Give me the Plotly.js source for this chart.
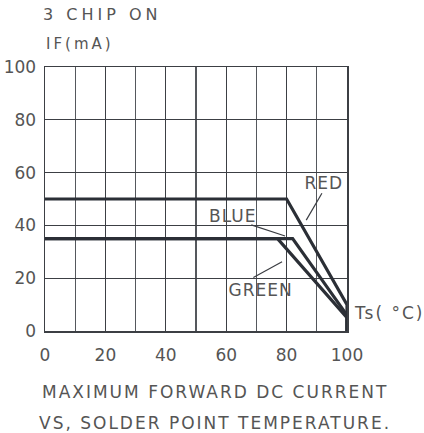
<!DOCTYPE html>
<html><head><meta charset="utf-8">
<script src="https://cdn.plot.ly/plotly-3.0.1.min.js"></script>
<style>
html,body{margin:0;padding:0;background:#fff;}
#chart{width:424px;height:433px;}
g.annotation[data-index="0"] .annotation-text{letter-spacing:4px;}
g.annotation[data-index="1"] .annotation-text{letter-spacing:3px;}
g.annotation[data-index="2"] .annotation-text{letter-spacing:2px;}
g.annotation[data-index="3"] .annotation-text{letter-spacing:2px;}
g.annotation[data-index="4"] .annotation-text{letter-spacing:2px;}
g.annotation[data-index="5"] .annotation-text{letter-spacing:1px;}
g.annotation[data-index="6"] .annotation-text{letter-spacing:1px;}
g.annotation[data-index="7"] .annotation-text{letter-spacing:1px;}
</style></head><body><div id="chart"></div>
<script>
// Series: IF (mA) vs solder point temperature Ts (°C)
const redX = [0, 80, 100, 100];
const redY = [50, 50, 10, 0];
const blueX = [0, 82, 100, 100];
const blueY = [35, 35, 6, 0];
const greenX = [0, 77, 100, 100];
const greenY = [35, 35, 5, 0];

const xTickVals = [0, 20, 40, 60, 80, 100];
const xTickText = ['0', '20', '40', '60', '80', '100'];
const yTickVals = [0, 20, 40, 60, 80, 100];
const yTickText = ['0', '20', '40', '60', '80', '100'];

// label leader lines [x0, y0, x1, y1] in data units
const redLeader = [91.7, 52.2, 86.5, 42.0];
const blueLeader = [68.3, 40.2, 79.5, 36.0];
const greenLeader = [69.0, 20.3, 78.5, 26.2];

const lineColor = '#2b2f36';
const gridColor = '#3c3f44';
const textColor = '#555555';
const fam = 'DejaVu Sans, sans-serif';

function curve(x, y, name) {
  return {x: x, y: y, name: name, type: 'scatter', mode: 'lines',
    line: {color: lineColor, width: 3.2}, hoverinfo: 'skip', showlegend: false};
}
function leader(a) {
  return {type: 'line', xref: 'x', yref: 'y', x0: a[0], y0: a[1], x1: a[2], y1: a[3],
    line: {color: '#3a3d42', width: 1.2}};
}

const data = [curve(redX, redY, 'RED'), curve(blueX, blueY, 'BLUE'), curve(greenX, greenY, 'GREEN')];

const layout = {
  width: 424, height: 433,
  margin: {l: 45, r: 77, t: 67, b: 102},
  paper_bgcolor: '#fff', plot_bgcolor: '#fff',
  showlegend: false,
  xaxis: {range: [0, 100], showgrid: true, gridcolor: gridColor, gridwidth: 1.3,
    minor: {dtick: 10, tick0: 0, showgrid: true, gridcolor: '#55585d', gridwidth: 1.3, ticks: ''},
    zeroline: false, showline: true, linecolor: gridColor, linewidth: 1.5, mirror: true,
    tickmode: 'array', tickvals: xTickVals, ticktext: xTickText, ticks: '',
    ticklabelstandoff: 8, tickfont: {family: fam, size: 17, color: textColor}},
  yaxis: {range: [0, 100], showgrid: true, gridcolor: gridColor, gridwidth: 1.3,
    zeroline: false, showline: true, linecolor: gridColor, linewidth: 1.5, mirror: true,
    tickmode: 'array', tickvals: yTickVals, ticktext: yTickText, ticks: '',
    ticklabelstandoff: 4, tickfont: {family: fam, size: 17, color: textColor}},
  shapes: [leader(redLeader), leader(blueLeader), leader(greenLeader)],
  annotations: [
    {text: '3 CHIP ON', xref: 'paper', yref: 'paper', x: -0.012, y: 1.197, xanchor: 'left', yanchor: 'middle', align: 'left', showarrow: false, font: {family: fam, size: 16, color: textColor}},
    {text: 'IF(mA)', xref: 'paper', yref: 'paper', x: -0.003, y: 1.087, xanchor: 'left', yanchor: 'middle', align: 'left', showarrow: false, font: {family: fam, size: 15, color: textColor}},
    {text: 'MAXIMUM FORWARD DC CURRENT', xref: 'paper', yref: 'paper', x: 0.5635, y: -0.231, xanchor: 'center', yanchor: 'middle', showarrow: false, font: {family: fam, size: 17, color: textColor}},
    {text: 'VS, SOLDER POINT TEMPERATURE.', xref: 'paper', yref: 'paper', x: 0.5635, y: -0.348, xanchor: 'center', yanchor: 'middle', showarrow: false, font: {family: fam, size: 17, color: textColor}},
    {text: 'Ts( °C)', xref: 'paper', yref: 'paper', x: 1.018, y: 0.068, xanchor: 'left', yanchor: 'middle', align: 'left', showarrow: false, font: {family: fam, size: 17, color: textColor}},
    {text: 'RED', xref: 'x', yref: 'y', x: 92.5, y: 56, xanchor: 'center', yanchor: 'middle', showarrow: false, font: {family: fam, size: 17, color: textColor}},
    {text: 'BLUE', xref: 'x', yref: 'y', x: 62, y: 43.7, xanchor: 'center', yanchor: 'middle', showarrow: false, font: {family: fam, size: 17, color: textColor}},
    {text: 'GREEN', xref: 'x', yref: 'y', x: 71.3, y: 15.5, xanchor: 'center', yanchor: 'middle', showarrow: false, font: {family: fam, size: 17, color: textColor}}
  ]
};

Plotly.newPlot('chart', data, layout, {staticPlot: true, displayModeBar: false});
</script></body></html>
